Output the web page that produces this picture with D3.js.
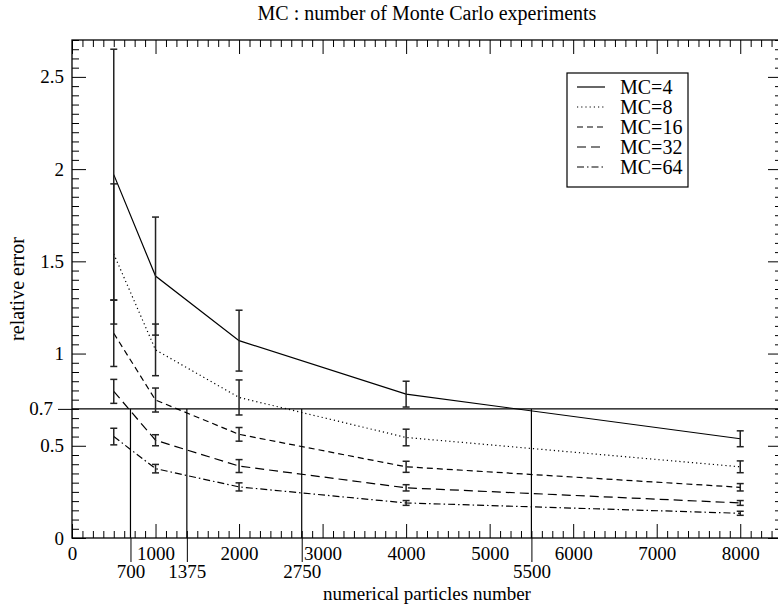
<!DOCTYPE html>
<html>
<head>
<meta charset="utf-8">
<script src="https://cdn.jsdelivr.net/npm/d3@7"></script>
<style>
  body { margin: 0; background: #fff; }
  svg { display: block; }
  text { font-family: "Liberation Serif", "DejaVu Serif", serif; fill: #000; }
</style>
</head>
<body>
<script>
// particle counts (x) and the five Monte Carlo series
var particles = [500, 1000, 2000, 4000, 8000];
var seriesNames = ["MC=4", "MC=8", "MC=16", "MC=32", "MC=64"];
var mc4  = [1.97, 1.42, 1.07, 0.78, 0.538];
var mc8  = [1.54, 1.02, 0.762, 0.545, 0.386];
var mc16 = [1.11, 0.748, 0.562, 0.386, 0.275];
var mc32 = [0.795, 0.53, 0.39, 0.272, 0.19];
var mc64 = [0.55, 0.376, 0.277, 0.19, 0.134];
// half width of the error bars
var err4  = [0.68, 0.32, 0.165, 0.07, 0.043];
var err8  = [0.38, 0.14, 0.095, 0.045, 0.032];
var err16 = [0.18, 0.065, 0.037, 0.03, 0.02];
var err32 = [0.065, 0.03, 0.035, 0.017, 0.013];
var err64 = [0.045, 0.023, 0.022, 0.013, 0.011];
// ticks
var xTicks = [0, 1000, 2000, 3000, 4000, 5000, 6000, 7000, 8000];
var yTicks = [0, 0.5, 1, 1.5, 2, 2.5];
var threshold = 0.7;
var crossings = [700, 1375, 2750, 5500];

var W = 778, H = 605;
var margin = { top: 40, left: 72 },
    plotW = 710,
    plotH = 498;

var svg = d3.select("body").append("svg")
    .attr("width", W)
    .attr("height", H);

var x = d3.scaleLinear().domain([0, 8500]).range([margin.left, margin.left + plotW]);
var y = d3.scaleLinear().domain([0, 2.7]).range([margin.top + plotH, margin.top]);

var x0 = x(0), x1 = x(8500), y0 = y(0), y1 = y(2.7);

var xMinor = d3.range(0, 8501, 125).filter(function (d) { return d % 1000 !== 0; });
var yMinor = d3.range(0, 2.701, 0.05).filter(function (d) { return Math.abs(d * 2 - Math.round(d * 2)) > 1e-6; });

function styleAxis(g) {
    g.select(".domain").remove();
    g.selectAll("line").attr("stroke", "#000").attr("stroke-width", 1);
    g.selectAll("text").attr("font-family", "Liberation Serif").attr("font-size", 19).attr("fill", "#000");
}

// bottom
svg.append("g").attr("transform", "translate(0," + y0 + ")")
    .call(d3.axisBottom(x).tickValues(xMinor).tickSize(-7).tickFormat(""))
    .call(styleAxis);
svg.append("g").attr("transform", "translate(0," + y0 + ")")
    .call(d3.axisBottom(x).tickValues(xTicks).tickSize(-14).tickPadding(9).tickFormat(d3.format("d")))
    .call(styleAxis);
// top
svg.append("g").attr("transform", "translate(0," + y1 + ")")
    .call(d3.axisTop(x).tickValues(xMinor).tickSize(-7).tickFormat(""))
    .call(styleAxis);
svg.append("g").attr("transform", "translate(0," + y1 + ")")
    .call(d3.axisTop(x).tickValues(xTicks).tickSize(-14).tickFormat(""))
    .call(styleAxis);
// left
svg.append("g").attr("transform", "translate(" + x0 + ",0)")
    .call(d3.axisLeft(y).tickValues(yMinor).tickSize(-7).tickFormat(""))
    .call(styleAxis);
svg.append("g").attr("transform", "translate(" + x0 + ",0)")
    .call(d3.axisLeft(y).tickValues(yTicks).tickSize(-14).tickPadding(8).tickFormat(d3.format("")))
    .call(styleAxis);
// right
svg.append("g").attr("transform", "translate(" + x1 + ",0)")
    .call(d3.axisRight(y).tickValues(yMinor).tickSize(-7).tickFormat(""))
    .call(styleAxis);
svg.append("g").attr("transform", "translate(" + x1 + ",0)")
    .call(d3.axisRight(y).tickValues(yTicks).tickSize(-14).tickFormat(""))
    .call(styleAxis);

// special ticks: threshold and crossing points
svg.append("g").attr("transform", "translate(" + x0 + ",0)")
    .call(d3.axisLeft(y).tickValues([threshold]).tickSize(14).tickPadding(5).tickFormat(d3.format("")))
    .call(styleAxis);
svg.append("g").attr("transform", "translate(0," + y0 + ")")
    .call(d3.axisBottom(x).tickValues(crossings).tickSize(24).tickPadding(3).tickFormat(d3.format("d")))
    .call(styleAxis);

svg.append("line")
    .attr("x1", x0).attr("x2", x1)
    .attr("y1", y(threshold)).attr("y2", y(threshold))
    .attr("stroke", "#000").attr("stroke-width", 1.2);
svg.selectAll(".cross").data(crossings).enter().append("line")
    .attr("class", "cross")
    .attr("x1", function (d) { return x(d); }).attr("x2", function (d) { return x(d); })
    .attr("y1", y(threshold)).attr("y2", y0)
    .attr("stroke", "#000").attr("stroke-width", 1.2);

// frame
svg.append("rect")
    .attr("x", x0).attr("y", y1)
    .attr("width", x1 - x0).attr("height", y0 - y1)
    .attr("fill", "none").attr("stroke", "#000").attr("stroke-width", 1.3);

// series
var dashes = [null, "1.2,3", "6,4", "9,5", "7,3,1.5,3"];
var values = [mc4, mc8, mc16, mc32, mc64];
var errors = [err4, err8, err16, err32, err64];

var series = seriesNames.map(function (name, i) {
    return {
        name: name,
        dash: dashes[i],
        points: particles.map(function (p, j) {
            return { x: p, v: values[i][j], e: errors[i][j] };
        })
    };
});

var line = d3.line().x(function (d) { return x(d.x); }).y(function (d) { return y(d.v); });

var sg = svg.selectAll(".series").data(series).enter().append("g").attr("class", "series");

sg.append("path")
    .attr("d", function (d) { return line(d.points); })
    .attr("fill", "none")
    .attr("stroke", "#000")
    .attr("stroke-width", 1.2)
    .attr("stroke-dasharray", function (d) { return d.dash; });

var bars = sg.selectAll(".err").data(function (d) { return d.points; }).enter().append("g").attr("class", "err")
    .attr("stroke", "#222").attr("stroke-width", 1.5);
bars.append("line")
    .attr("x1", function (d) { return x(d.x); }).attr("x2", function (d) { return x(d.x); })
    .attr("y1", function (d) { return y(d.v - d.e); }).attr("y2", function (d) { return y(d.v + d.e); });
bars.append("line")
    .attr("x1", function (d) { return x(d.x) - 3.5; }).attr("x2", function (d) { return x(d.x) + 3.5; })
    .attr("y1", function (d) { return y(d.v - d.e); }).attr("y2", function (d) { return y(d.v - d.e); });
bars.append("line")
    .attr("x1", function (d) { return x(d.x) - 3.5; }).attr("x2", function (d) { return x(d.x) + 3.5; })
    .attr("y1", function (d) { return y(d.v + d.e); }).attr("y2", function (d) { return y(d.v + d.e); });

// legend
var legend = svg.append("g").attr("transform", "translate(567,73)");
legend.append("rect")
    .attr("width", 121).attr("height", 114)
    .attr("fill", "#fff").attr("stroke", "#000").attr("stroke-width", 1.2);
var items = legend.selectAll(".item").data(series).enter().append("g")
    .attr("class", "item")
    .attr("transform", function (d, i) { return "translate(0," + (14 + i * 20) + ")"; });
items.append("line")
    .attr("x1", 10).attr("x2", 38).attr("y1", 0).attr("y2", 0)
    .attr("stroke", "#000").attr("stroke-width", 1.2)
    .attr("stroke-dasharray", function (d) { return d.dash; });
items.append("text")
    .attr("x", 53).attr("y", 7)
    .attr("font-size", 20)
    .text(function (d) { return d.name; });

// titles
svg.append("text")
    .attr("x", (x0 + x1) / 2).attr("y", 20)
    .attr("text-anchor", "middle")
    .attr("font-size", 20)
    .text("MC : number of Monte Carlo experiments");
svg.append("text")
    .attr("x", (x0 + x1) / 2).attr("y", 600)
    .attr("text-anchor", "middle")
    .attr("font-size", 19)
    .text("numerical particles number");
svg.append("text")
    .attr("transform", "translate(24," + ((y0 + y1) / 2) + ") rotate(-90)")
    .attr("text-anchor", "middle")
    .attr("font-size", 20)
    .text("relative error");
</script>
</body>
</html>
